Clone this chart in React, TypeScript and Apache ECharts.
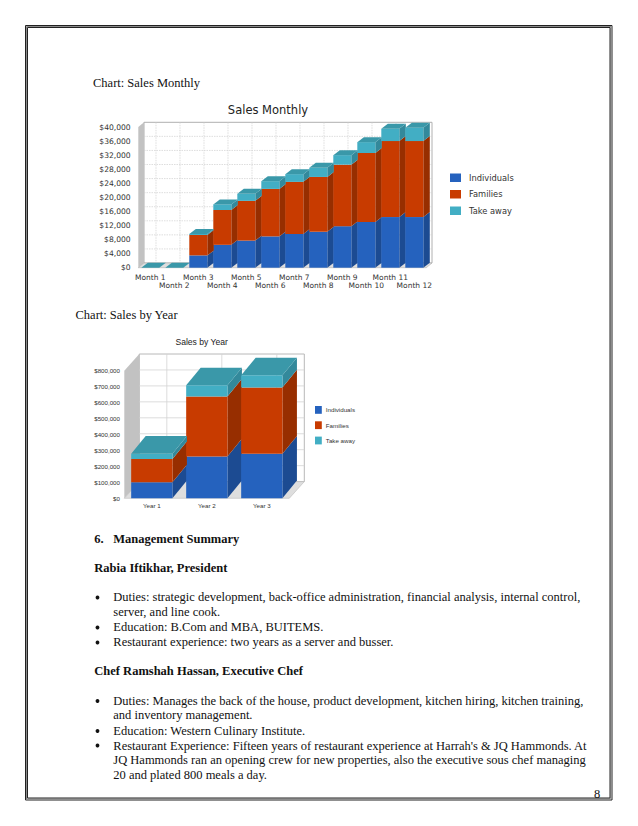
import React, { useEffect, useRef } from "react";
import * as echarts from "echarts";

const months = ["Month 1","Month 2","Month 3","Month 4","Month 5","Month 6","Month 7","Month 8","Month 9","Month 10","Month 11","Month 12"];
const monthIndividuals = [0,0,3500,6500,7700,8900,9600,10200,11800,13000,14400,14400];
const monthFamilies = [0,0,5800,9900,11300,13500,14800,15600,17500,19600,21600,21600];
const monthTakeAway = [0,0,300,1600,2000,2200,2200,2600,2700,3100,3500,3800];

const years = ["Year 1","Year 2","Year 3"];
const yearIndividuals = [100000,262000,279000];
const yearFamilies = [146000,376000,416000];
const yearTakeAway = [33000,70000,76000];

const seriesNames = ["Individuals","Families","Take away"];
const monthTicks = [0,4000,8000,12000,16000,20000,24000,28000,32000,36000,40000];
const yearTicks = [0,100000,200000,300000,400000,500000,600000,700000,800000];

const palette = [
  { front: "#2562BE", side: "#1C4B92" },
  { front: "#C83B00", side: "#972E00" },
  { front: "#42AEC4", side: "#33899B", top: "#3A98A9" },
];

const SERIF = "'Liberation Serif'";
const fmt = (v: number) => "$" + v.toLocaleString("en-US");

type Depth = { dx: number; dy: number };

function wallSeries(xIdx: number, cats: string[], ticks: number[], wall: Depth, line: any, border: string) {
  return {
    type: "custom",
    name: "wall" + xIdx,
    xAxisIndex: xIdx,
    yAxisIndex: xIdx,
    silent: true,
    clip: false,
    z: 1,
    data: [[0, 0]],
    encode: { x: 0, y: 1 },
    renderItem: (_p: any, api: any) => {
      const band = api.size([1, 0])[0];
      const [cx0, y0] = api.coord([0, ticks[0]]);
      const yTop = api.coord([0, ticks[ticks.length - 1]])[1];
      const xL = cx0 - band / 2;
      const xR = xL + band * cats.length;
      const { dx, dy } = wall;
      const children: any[] = [
        { type: "rect", shape: { x: xL + dx, y: yTop + dy, width: xR - xL, height: y0 - yTop }, style: { fill: "#fff", stroke: border, lineWidth: 1 } },
        { type: "polygon", shape: { points: [[xL, yTop], [xL + dx, yTop + dy], [xL + dx, y0 + dy], [xL, y0]] }, style: { fill: "#C2C2C2" } },
        { type: "polygon", shape: { points: [[xL, y0], [xL + dx, y0 + dy], [xR + dx, y0 + dy], [xR, y0]] }, style: { fill: "#DEDEDE", stroke: border, lineWidth: 0.6 } },
      ];
      ticks.slice(1, -1).forEach((t) => {
        const y = api.coord([0, t])[1] + dy;
        children.push({ type: "line", shape: { x1: xL + dx, y1: y, x2: xR + dx, y2: y }, style: line });
      });
      cats.forEach((_c, i) => {
        const x = api.coord([i, 0])[0] + dx;
        children.push({ type: "line", shape: { x1: x, y1: yTop + dy, x2: x, y2: y0 + dy }, style: line });
      });
      return { type: "group", children };
    },
  };
}

function barSeries(xIdx: number, cats: string[], layers: number[][], layer: number, ratio: number, d: Depth) {
  const base = cats.map((_c, i) => layers.slice(0, layer).reduce((s, a) => s + a[i], 0));
  const pal = palette[layer];
  return {
    type: "custom",
    name: seriesNames[layer],
    xAxisIndex: xIdx,
    yAxisIndex: xIdx,
    clip: false,
    z: 2 + layer,
    itemStyle: { color: pal.front },
    data: cats.map((_c, i) => [i, base[i], base[i] + layers[layer][i]]),
    encode: { x: 0, y: 2 },
    renderItem: (_p: any, api: any) => {
      const i = api.value(0);
      const bw = api.size([1, 0])[0] * ratio;
      const [cx, yb] = api.coord([i, api.value(1)]);
      const yt = api.coord([i, api.value(2)])[1];
      const xl = cx - bw / 2;
      const xr = cx + bw / 2;
      const { dx, dy } = d;
      const children: any[] = [
        { type: "polygon", shape: { points: [[xr, yb], [xr + dx, yb + dy], [xr + dx, yt + dy], [xr, yt]] }, style: { fill: pal.side } },
        { type: "rect", shape: { x: xl, y: yt, width: bw, height: yb - yt }, style: { fill: pal.front } },
      ];
      if (pal.top) {
        children.push({ type: "polygon", shape: { points: [[xl, yt], [xl + dx, yt + dy], [xr + dx, yt + dy], [xr, yt]] }, style: { fill: pal.top } });
      }
      return { type: "group", children };
    },
  };
}

function text(t: string, x: number, y: number, bold = false) {
  return {
    type: "text",
    x,
    y,
    z: 10,
    style: { text: t, fill: "#111", fontFamily: SERIF, fontSize: 12.5, fontWeight: bold ? "bold" : "normal", verticalAlign: "middle" },
  };
}
function bullet(y: number) {
  return { type: "circle", z: 10, shape: { cx: 97.5, cy: y, r: 1.9 }, style: { fill: "#111" } };
}
function frame(inset: number, stroke: string) {
  return { type: "rect", z: 9, shape: { x: 25.5 + inset, y: 25.5 + inset, width: 586.5 - 2 * inset, height: 774.5 - 2 * inset }, style: { fill: "none", stroke, lineWidth: 1 } };
}

export default function App() {
  const ref = useRef<HTMLDivElement>(null);
  useEffect(() => {
    const chart = echarts.init(ref.current!, undefined, { renderer: "svg" });
    const monthLayers = [monthIndividuals, monthFamilies, monthTakeAway];
    const yearLayers = [yearIndividuals, yearFamilies, yearTakeAway];
    const monthFont = "'DejaVu Sans'";
    const yearFont = "'Liberation Sans'";
    chart.setOption({
      animation: false,
      backgroundColor: "#fff",
      title: [
        { text: "Sales Monthly", left: 268, top: 104, textAlign: "center", padding: 0, textStyle: { fontFamily: monthFont, fontSize: 11.5, fontWeight: "normal", color: "#222" } },
        { text: "Sales by Year", left: 201.7, top: 337.5, textAlign: "center", padding: 0, textStyle: { fontFamily: yearFont, fontSize: 8.6, fontWeight: "normal", color: "#222" } },
      ],
      grid: [
        { left: 138.3, top: 127, width: 288, height: 140.7 },
        { left: 124.3, top: 370.7, width: 165, height: 127.6 },
      ],
      xAxis: [
        {
          type: "category", gridIndex: 0, data: months,
          axisLine: { show: false }, axisTick: { show: false }, splitLine: { show: false },
          axisLabel: { interval: 0, hideOverlap: false, margin: 5, fontFamily: monthFont, fontSize: 7.5, color: "#333", lineHeight: 8.6, formatter: (v: string, i: number) => (i % 2 ? "\n" + v : v) },
        },
        {
          type: "category", gridIndex: 1, data: years,
          axisLine: { show: false }, axisTick: { show: false }, splitLine: { show: false },
          axisLabel: { interval: 0, margin: 4.5, fontFamily: yearFont, fontSize: 6.2, color: "#333" },
        },
      ],
      yAxis: [
        {
          type: "value", gridIndex: 0, min: 0, max: 40000, interval: 4000,
          axisLine: { show: false }, axisTick: { show: false }, splitLine: { show: false },
          axisLabel: { margin: 7.6, fontFamily: monthFont, fontSize: 7.6, color: "#333", formatter: fmt },
        },
        {
          type: "value", gridIndex: 1, min: 0, max: 800000, interval: 100000,
          axisLine: { show: false }, axisTick: { show: false }, splitLine: { show: false },
          axisLabel: { margin: 4.3, fontFamily: yearFont, fontSize: 6.2, color: "#333", formatter: fmt },
        },
      ],
      legend: [
        { data: seriesNames, orient: "vertical", left: 450, top: 173.5, padding: 0, itemWidth: 11, itemHeight: 8.5, itemGap: 8, icon: "rect", selectedMode: false, textStyle: { fontFamily: monthFont, fontSize: 8.3, color: "#333", padding: [0, 0, 0, 3] } },
        { data: seriesNames, orient: "vertical", left: 315, top: 406, padding: 0, itemWidth: 6.8, itemHeight: 7.8, itemGap: 7.5, icon: "rect", selectedMode: false, textStyle: { fontFamily: yearFont, fontSize: 6.2, color: "#333", padding: [0, 0, 0, -1] } },
      ],
      series: [
        wallSeries(0, months, monthTicks, { dx: 5.7, dy: -4.7 }, { stroke: "#D0D0D0", lineWidth: 0.7, lineDash: [1.5, 1] }, "#B0B0B0"),
        wallSeries(1, years, yearTicks, { dx: 15, dy: -16.7 }, { stroke: "#D4D4D4", lineWidth: 0.8 }, "#B8B8B8"),
        ...seriesNames.map((_n, k) => barSeries(0, months, monthLayers, k, 0.75, { dx: 6.5, dy: -5 })),
        ...seriesNames.map((_n, k) => barSeries(1, years, yearLayers, k, 0.75, { dx: 14.5, dy: -17.7 })),
      ],
      graphic: {
        elements: [
          frame(0, "#222"), frame(1, "#8A8A8A"), frame(2, "#222"),
          text("Chart: Sales Monthly", 93, 83),
          text("Chart: Sales by Year", 75.5, 315),
          text("6.", 94.3, 539, true),
          text("Management Summary", 113.3, 539, true),
          text("Rabia Iftikhar, President", 94.3, 567.5, true),
          bullet(597.5),
          text("Duties: strategic development, back-office administration, financial analysis, internal control,", 113.3, 597),
          text("server, and line cook.", 113.3, 611.5),
          bullet(627.5),
          text("Education: B.Com and MBA, BUITEMS.", 113.3, 626.5),
          bullet(642.5),
          text("Restaurant experience: two years as a server and busser.", 113.3, 641.5),
          text("Chef Ramshah Hassan, Executive Chef", 94.3, 670.5, true),
          bullet(701),
          text("Duties: Manages the back of the house, product development, kitchen hiring, kitchen training,", 113.3, 700.5),
          text("and inventory management.", 113.3, 715),
          bullet(731),
          text("Education: Western Culinary Institute.", 113.3, 730.5),
          bullet(745.5),
          text("Restaurant Experience: Fifteen years of restaurant experience at Harrah's & JQ Hammonds. At", 113.3, 745.5),
          text("JQ Hammonds ran an opening crew for new properties, also the executive sous chef managing", 113.3, 760),
          text("20 and plated 800 meals a day.", 113.3, 775),
          text("8", 594, 794),
        ],
      },
    });
    return () => chart.dispose();
  }, []);
  return <div ref={ref} style={{ position: "absolute", left: 0, top: 0, width: 638, height: 826 }} />;
}
